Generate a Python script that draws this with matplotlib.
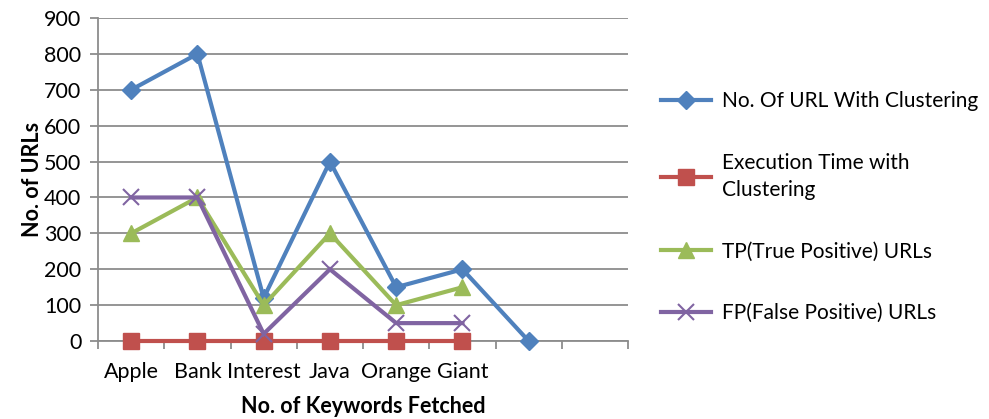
import matplotlib
matplotlib.use("Agg")
import matplotlib.pyplot as plt
from matplotlib.ticker import FixedLocator, NullFormatter

# keyword categories (last two slots are empty on the axis)
keywords = ["Apple", "Bank", "Interest", "Java", "Orange", "Giant", "", ""]

# series values
urls_clustering = [700, 800, 120, 500, 150, 200, 0]
exec_time = [0, 0, 0, 0, 0, 0]
true_pos = [300, 400, 100, 300, 100, 150]
false_pos = [400, 400, 20, 200, 50, 50]

plt.rcParams["font.family"] = ["Lato", "DejaVu Sans"]

fig = plt.figure(figsize=(9.89, 4.19), dpi=100)
ax = fig.add_axes([0.0991, 0.186, 0.536, 0.771])

grid_col = "#8c8c8c"

# one line per series, Excel 2007 palette
series = [
    (urls_clustering, "No. Of URL With Clustering", "#4F81BD", "D", 9, {}),
    (exec_time, "Execution Time with\nClustering", "#C0504D", "s", 12, {}),
    (true_pos, "TP(True Positive) URLs", "#9BBB59", "^", 12, {}),
    (false_pos, "FP(False Positive) URLs", "#8064A2", "x", 11, {"markeredgewidth": 1.5}),
]
for vals, label, col, mk, ms, extra in series:
    ax.plot(range(len(vals)), vals, color=col, lw=3, marker=mk, ms=ms,
            markerfacecolor=col, markeredgecolor=col, label=label,
            solid_joinstyle="miter", clip_on=False, zorder=3, **extra)

# axes ranges and gridlines
ax.set_xlim(-0.5, len(keywords) - 0.5)
ax.set_ylim(0, 900)
ax.set_yticks(range(0, 901, 100))
ax.yaxis.grid(True, color=grid_col, lw=1.3)
ax.set_axisbelow(True)

ax.set_xticks(range(len(keywords)))
ax.set_xticklabels(keywords)
ax.xaxis.set_minor_locator(FixedLocator([i - 0.5 for i in range(len(keywords) + 1)]))
ax.xaxis.set_minor_formatter(NullFormatter())
ax.tick_params(axis="x", which="major", length=0, pad=15, labelsize=15.5)
ax.tick_params(axis="x", which="minor", length=6, width=1.3, color=grid_col)
ax.tick_params(axis="y", length=6, width=1.3, color=grid_col, pad=6, labelsize=15.5)

for side in ["top", "right"]:
    ax.spines[side].set_visible(False)
for side in ["left", "bottom"]:
    ax.spines[side].set_color(grid_col)
    ax.spines[side].set_linewidth(1.3)

ax.set_xlabel("No. of Keywords Fetched", fontsize=15.5, fontweight="bold", labelpad=10)
ax.set_ylabel("No. of URLs", fontsize=15.5, fontweight="bold", labelpad=1)

leg = fig.legend(loc="center left", bbox_to_anchor=(0.658, 0.506), frameon=False,
                 fontsize=15, handlelength=2.4, handletextpad=0.5, labelspacing=2.0,
                 borderpad=0)
for t in leg.get_texts():
    t.set_linespacing(1.45)

fig.savefig("out.png", dpi=100)
